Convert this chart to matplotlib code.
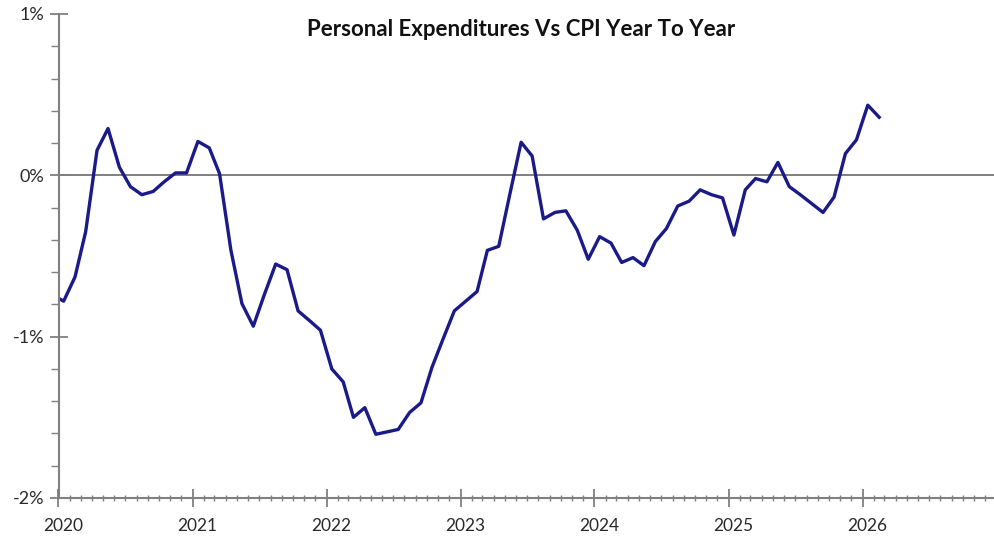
import numpy as np
import pandas as pd
import matplotlib
matplotlib.use("Agg")
import matplotlib.pyplot as plt
import matplotlib.dates as mdates
import matplotlib.transforms as mtransforms
from matplotlib.ticker import FixedLocator, MultipleLocator, FuncFormatter

# monthly readings, Dec 2019 .. Feb 2026 (percent, year over year gap)
start_month = "2019-12-01"
gap_pct = [
    -0.74, -0.78, -0.63, -0.35, 0.155, 0.29, 0.05, -0.07, -0.12, -0.10, -0.04, 0.015, 0.015,
    0.21, 0.17, 0.01, -0.465, -0.795, -0.935, -0.74, -0.55, -0.585, -0.84, -0.90, -0.96,
    -1.20, -1.28, -1.50, -1.44, -1.605, -1.59, -1.575, -1.47, -1.41, -1.19, -1.01, -0.84,
    -0.78, -0.72, -0.465, -0.44, -0.12, 0.205, 0.12, -0.27, -0.23, -0.22, -0.34, -0.52,
    -0.38, -0.42, -0.54, -0.51, -0.56, -0.41, -0.33, -0.19, -0.16, -0.09, -0.12, -0.14,
    -0.37, -0.09, -0.02, -0.04, 0.08, -0.07, -0.12, -0.175, -0.23, -0.135, 0.135, 0.22,
    0.435, 0.36,
]
y_ticks = [-2, -1, 0, 1]
title = "Personal Expenditures Vs CPI Year To Year"

plt.rcParams["font.family"] = ["Lato", "DejaVu Sans"]

# points sit in the middle of each month
dates = pd.date_range(start_month, periods=len(gap_pct), freq="MS") + pd.Timedelta(days=14)

fig = plt.figure(figsize=(9.94, 5.5), dpi=100)
ax = fig.add_axes([58.5 / 994, 1 - 498 / 550, 935.5 / 994, 484 / 550])

ax.axhline(0, color="#7f7f7f", lw=1.4, zorder=1)
ax.plot(dates, gap_pct, color="#1a1a88", lw=2.4, zorder=2, clip_on=True)

ax.set_xlim(pd.Timestamp("2020-01-01"), pd.Timestamp("2026-12-25"))
ax.set_ylim(-2, 1)

ax.xaxis.set_major_locator(mdates.YearLocator())
ax.xaxis.set_major_formatter(mdates.DateFormatter("%Y"))
ax.xaxis.set_minor_locator(mdates.MonthLocator())
ax.yaxis.set_major_locator(FixedLocator(y_ticks))
ax.yaxis.set_minor_locator(MultipleLocator(0.2))
ax.yaxis.set_major_formatter(FuncFormatter(lambda v, p: f"{v:.0f}%"))

for s in ["top", "right"]:
    ax.spines[s].set_visible(False)
for s in ["left", "bottom"]:
    ax.spines[s].set_color("#808080")
    ax.spines[s].set_linewidth(1.5)

ax.tick_params(axis="x", which="major", direction="inout", length=13, width=1.3,
               color="#808080", labelsize=12.5, labelcolor="#2a2a2a", pad=8)
ax.tick_params(axis="x", which="minor", direction="inout", length=5, width=1.0, color="#808080")
ax.tick_params(axis="y", which="major", direction="inout", length=13, width=1.3,
               color="#808080", labelsize=13, labelcolor="#2a2a2a", pad=4)
ax.tick_params(axis="y", which="minor", direction="out", length=6, width=1.0, color="#808080")

# year labels sit a bit right of their tick
shift = mtransforms.ScaledTranslation(4.5 / 100, 0, fig.dpi_scale_trans)
for lbl in ax.get_xticklabels():
    lbl.set_transform(lbl.get_transform() + shift)

fig.text(521 / 994, 1 - 30 / 550, title, ha="center", va="center",
         fontsize=16, fontweight="bold", color="#111111")

fig.savefig("out.png", dpi=100, facecolor="white")
